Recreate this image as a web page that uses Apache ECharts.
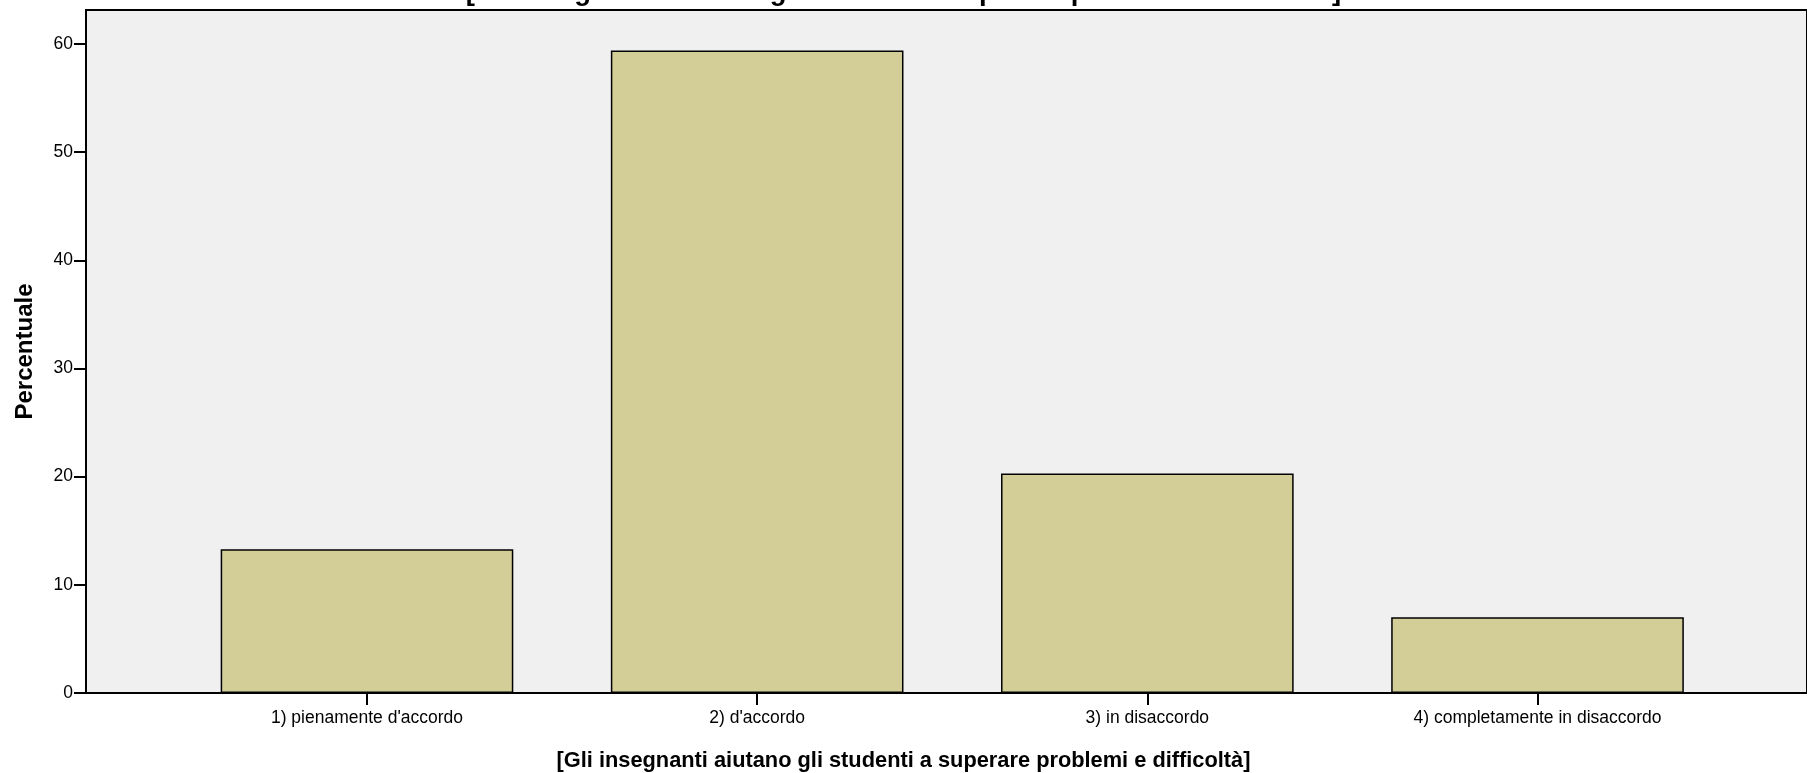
<!DOCTYPE html>
<html>
<head>
<meta charset="utf-8">
<script src="https://cdn.jsdelivr.net/npm/echarts@6/dist/echarts.min.js"></script>
<style>
html,body{margin:0;padding:0;background:#fff;}
#chart{width:1807px;height:773px;}
</style>
</head>
<body>
<div id="chart"></div>
<script>
const categories = ["1) pienamente d'accordo", "2) d'accordo", "3) in disaccordo", "4) completamente in disaccordo"];
const percentValues = [13.3, 59.4, 20.3, 7.0];
const yTicks = [0, 10, 20, 30, 40, 50, 60];
const titleText = "[Gli insegnanti aiutano gli studenti a superare problemi e difficoltà]";
const xAxisTitle = "[Gli insegnanti aiutano gli studenti a superare problemi e difficoltà]";
const yAxisTitle = "Percentuale";

const FONT = "'Liberation Sans', Arial, Helvetica, sans-serif";
const chart = echarts.init(document.getElementById('chart'), null, {renderer: 'canvas'});

chart.setOption({
  backgroundColor: '#ffffff',
  animation: false,
  title: [
    {
      text: titleText,
      left: 'center',
      top: -27,
      textStyle: {fontFamily: FONT, fontSize: 27.5, fontWeight: 'bold', color: '#000'}
    },
    {
      text: xAxisTitle,
      left: 'center',
      top: 745,
      textStyle: {fontFamily: FONT, fontSize: 21.8, fontWeight: 'bold', color: '#000'}
    }
  ],
  grid: [
    {left: 86, right: -3, top: 10, bottom: 80, show: true, backgroundColor: '#f0f0f0',
     borderColor: '#000', borderWidth: 2, containLabel: false},
    {left: 171.9, right: 74.4, top: 44, bottom: 80, show: false, containLabel: false}
  ],
  xAxis: [
    {gridIndex: 0, type: 'value', show: false, min: 0, max: 1},
    {
      gridIndex: 1, type: 'category', data: categories,
      axisLine: {show: false},
      axisTick: {show: true, alignWithLabel: true, length: 12, lineStyle: {color: '#000', width: 2}},
      axisLabel: {fontFamily: FONT, fontSize: 17.5, color: '#000', margin: 16},
      splitLine: {show: false}
    }
  ],
  yAxis: [
    {
      gridIndex: 0, type: 'value', min: 0, max: 1,
      axisLine: {show: false}, axisTick: {show: false}, axisLabel: {show: false}, splitLine: {show: false},
      name: yAxisTitle, nameLocation: 'middle', nameRotate: 90, nameGap: 49,
      nameTextStyle: {fontFamily: FONT, fontSize: 24, fontWeight: 'bold', color: '#000'}
    },
    {
      gridIndex: 1, type: 'value', min: 0, max: yTicks[yTicks.length - 1], interval: 10,
      offset: 85.9,
      axisLine: {show: false},
      axisTick: {show: true, length: 12, lineStyle: {color: '#000', width: 2}},
      axisLabel: {fontFamily: FONT, fontSize: 17.5, color: '#000', margin: 13},
      splitLine: {show: false}
    }
  ],
  series: [{
    type: 'bar',
    xAxisIndex: 1, yAxisIndex: 1,
    data: percentValues,
    barCategoryGap: '25%',
    itemStyle: {color: '#d3ce97', borderColor: '#000', borderWidth: 1.5}
  }]
});
</script>
</body>
</html>
